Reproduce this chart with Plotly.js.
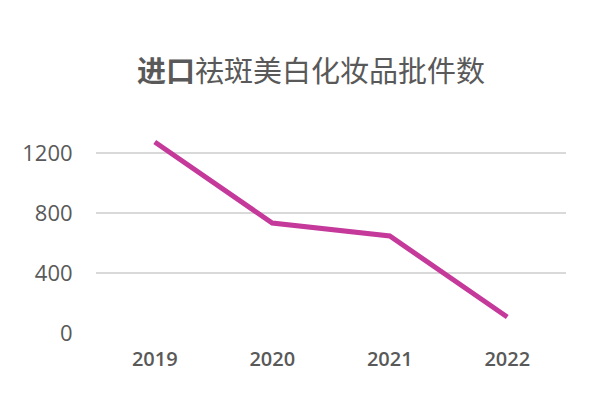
<!DOCTYPE html>
<html>
<head>
<meta charset="utf-8">
<script src="https://cdn.plot.ly/plotly-3.0.1.min.js"></script>
<style>html,body{margin:0;padding:0;background:#fff;}#chart{width:610px;height:397px;}</style>
</head>
<body>
<div id="chart"></div>
<script>
const years = ["2019", "2020", "2021", "2022"];
const approvals = [1273, 733, 647, 107];
const yTicks = [0, 400, 800, 1200];
const titleText = "<b>进口</b>祛斑美白化妆品批件数";

const trace = {
  x: years,
  y: approvals,
  type: "scatter",
  mode: "lines",
  line: {color: "#C4399A", width: 5},
  cliponaxis: false,
  hoverinfo: "skip"
};

const layout = {
  width: 610,
  height: 397,
  margin: {l: 96, r: 44, t: 123, b: 64},
  paper_bgcolor: "#ffffff",
  plot_bgcolor: "#ffffff",
  showlegend: false,
  font: {family: "Open Sans, Noto Sans CJK SC, sans-serif", color: "#595959"},
  title: {
    text: titleText,
    font: {family: "Noto Sans CJK SC, sans-serif", size: 29, color: "#595959"},
    x: 0.51, xanchor: "center",
    y: 0.82, yanchor: "middle"
  },
  xaxis: {
    type: "category",
    range: [-0.5, 3.5],
    showgrid: false,
    zeroline: false,
    showline: false,
    ticks: "outside",
    ticklen: 8,
    tickcolor: "rgba(0,0,0,0)",
    tickfont: {family: "Open Sans, sans-serif", size: 20, color: "#595959", weight: 600}
  },
  yaxis: {
    range: [0, 1400],
    tickvals: yTicks,
    ticktext: yTicks.map(String),
    showgrid: true,
    gridcolor: "#d9d9d9",
    gridwidth: 1.5,
    zeroline: false,
    showline: false,
    ticks: "outside",
    ticklen: 18,
    tickcolor: "rgba(0,0,0,0)",
    tickfont: {family: "Open Sans, sans-serif", size: 22, color: "#595959"}
  }
};

Plotly.newPlot("chart", [trace], layout, {staticPlot: true, displayModeBar: false});
</script>
</body>
</html>
